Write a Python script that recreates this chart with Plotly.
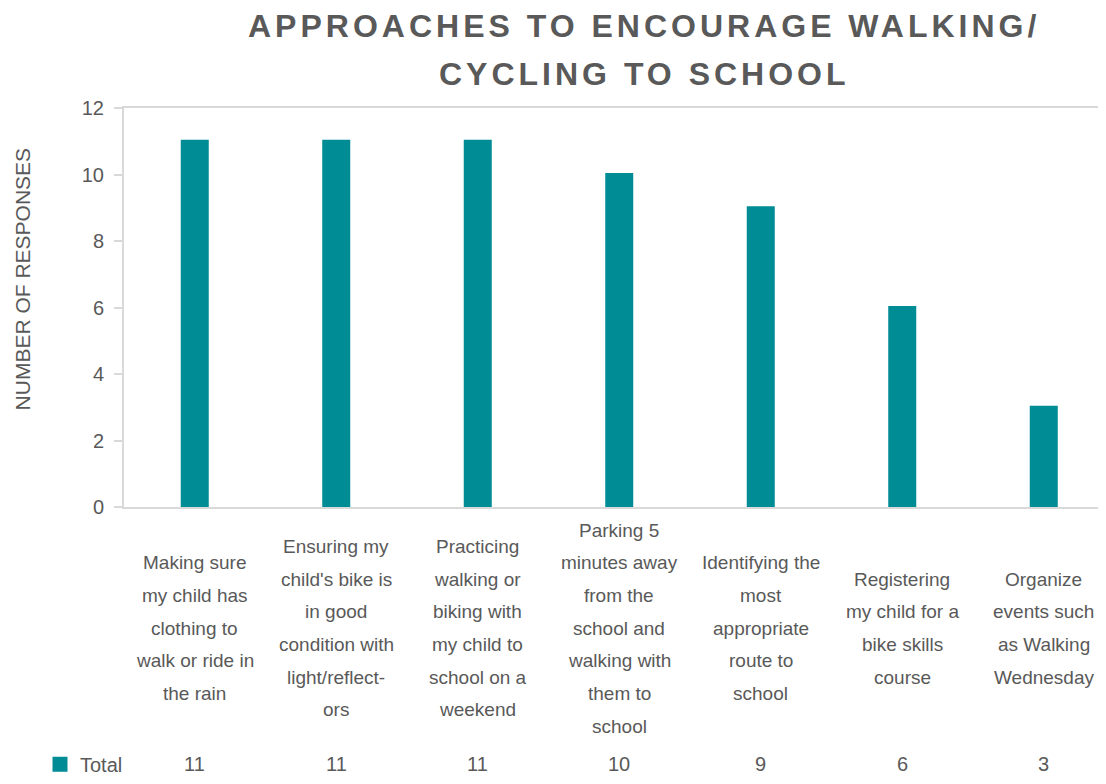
import plotly.graph_objects as go

categories = [
    ["Making sure", "my child has", "clothing to", "walk or ride in", "the rain"],
    ["Ensuring my", "child's bike is", "in good", "condition with", "light/reflect-", "ors"],
    ["Practicing", "walking or", "biking with", "my child to", "school on a", "weekend"],
    ["Parking 5", "minutes away", "from the", "school and", "walking with", "them to", "school"],
    ["Identifying the", "most", "appropriate", "route to", "school"],
    ["Registering", "my child for a", "bike skills", "course"],
    ["Organize", "events such", "as Walking", "Wednesday"],
]
values = [11, 11, 11, 10, 9, 6, 3]
series_name = "Total"
y_ticks = [0, 2, 4, 6, 8, 10, 12]
title_lines = ["APPROACHES TO ENCOURAGE WALKING/", "CYCLING TO SCHOOL"]
y_title = "NUMBER OF RESPONSES"

BAR = "#008C95"
TXT = "#595959"
AX = "#D9D9D9"
FONT = "Liberation Sans, Arial, sans-serif"

OFF = 8  # page body margin
W, H = 1106 - OFF, 784 - OFF
ML, MR, MT = 124 - OFF, 0, 108 - OFF
MB = H - (513 - OFF)
plot_h = H - MT - MB
plot_w = W - ML - MR
step = 141.5
edge = 3


def py_to_paper(py):
    return (H - MB - (py - OFF)) / plot_h


def px_to_paper(px):
    return (px - OFF - ML) / plot_w


x_idx = list(range(len(values)))

fig = go.Figure()
fig.add_trace(go.Bar(
    x=x_idx, y=values, name=series_name, width=(28 - edge) / step,
    marker=dict(color=BAR, line=dict(color=BAR, width=edge)),
    showlegend=True,
))

annotations = []
label_center = py_to_paper(636)
line_gap = 32.7
for i, lines in enumerate(categories):
    n = len(lines)
    for j, ln in enumerate(lines):
        annotations.append(dict(
            x=i, y=label_center, xref="x", yref="paper", text=ln, showarrow=False,
            xanchor="center", yanchor="middle",
            yshift=((n - 1) / 2 - j) * line_gap,
            font=dict(size=19, color=TXT, family=FONT),
        ))

row_y = py_to_paper(774)
for i, v in enumerate(values):
    annotations.append(dict(
        x=i, y=row_y, xref="x", yref="paper", text=str(v), showarrow=False,
        xanchor="center", yanchor="middle",
        font=dict(size=20, color=TXT, family=FONT),
    ))

title_y = [25, 73]
for t, ty in zip(title_lines, title_y):
    annotations.append(dict(
        x=px_to_paper(644), y=py_to_paper(ty), xref="paper", yref="paper",
        text='<span style="letter-spacing:4px"><b>' + t + "</b></span>",
        showarrow=False, xanchor="center", yanchor="middle",
        font=dict(size=32, color=TXT, family=FONT),
    ))

annotations.append(dict(
    x=px_to_paper(22), y=py_to_paper(282), xref="paper", yref="paper",
    text=y_title, showarrow=False, textangle=-90, xanchor="center", yanchor="middle",
    font=dict(size=21, color=TXT, family=FONT),
))

fig.update_layout(
    width=W, height=H,
    margin=dict(l=ML, r=MR, t=MT, b=MB, pad=0),
    paper_bgcolor="white", plot_bgcolor="white",
    annotations=annotations,
    showlegend=True,
    legend=dict(
        x=px_to_paper(40), y=row_y, xanchor="left", yanchor="middle",
        font=dict(size=20, color=TXT, family=FONT), bgcolor="rgba(0,0,0,0)",
        itemwidth=30,
    ),
    xaxis=dict(
        range=[-0.5, -0.5 + plot_w / step],
        showticklabels=False, ticks="", showgrid=False, zeroline=False,
        showline=True, linecolor=AX, linewidth=2, mirror=True,
    ),
    yaxis=dict(
        range=[0, 12], tickvals=y_ticks, ticks="outside", ticklen=8,
        tickcolor=AX, tickwidth=2, showgrid=False, zeroline=False,
        showline=True, linecolor=AX, linewidth=2,
        tickfont=dict(size=20, color=TXT, family=FONT), ticklabelstandoff=6,
    ),
)

fig.write_html("out.html")
